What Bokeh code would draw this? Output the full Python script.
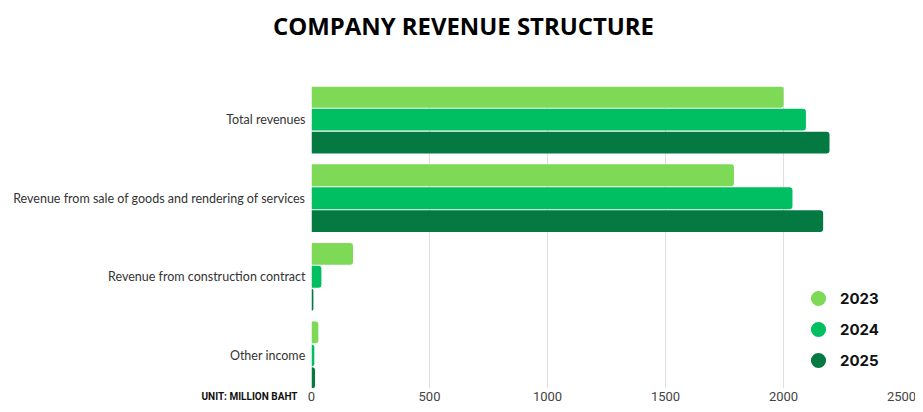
from bokeh.plotting import figure
from bokeh.layouts import column
from bokeh.models import (ColumnDataSource, FactorRange, FixedTicker, Label,
                          Legend, LegendItem, Range1d)
from bokeh.core.properties import value
from bokeh.transform import dodge
from bokeh.embed import file_html
from bokeh.resources import INLINE

# ---- data (million baht) ----
categories = ["Total revenues",
              "Revenue from sale of goods and rendering of services",
              "Revenue from construction contract",
              "Other income"]
years = ["2023", "2024", "2025"]
v2023 = [2000, 1790, 176, 29]
v2024 = [2095, 2038, 42, 12]
v2025 = [2195, 2168, 8, 15]
x_ticks = [0, 500, 1000, 1500, 2000, 2500]
tick_labels = ["0", "500", "1000", "1500", "2000", "2500"]
colors = ["#7ED957", "#00BF63", "#047A42"]

title_text = "COMPANY REVENUE STRUCTURE"
unit_text = "UNIT: MILLION BAHT"

# ---- layout constants (pixels) ----
W = 907
TOP_H, MAIN_H, BOT_H = 78, 302, 16
LEFT, RIGHT = 303, 14
X_MAX = 2500


def no_frame_align(f):
    if "frame_align" in f.properties():
        f.frame_align = False
    return f


def strip(height, x_range, y_range):
    f = figure(width=W, height=height, x_range=x_range, y_range=y_range,
               x_axis_location=None, y_axis_location=None,
               min_border=0, output_backend="svg", toolbar_location=None)
    f.grid.visible = False
    f.outline_line_color = None
    f.background_fill_color = "white"
    f.border_fill_color = "white"
    return no_frame_align(f)


# ---- title strip ----
top = strip(TOP_H, Range1d(0, 1), Range1d(0, 1))
top.add_layout(Label(x=455, y=TOP_H - 17, x_units="screen", y_units="screen",
                     text=title_text, text_align="center", text_baseline="middle",
                     text_font="Open Sans", text_font_style="bold",
                     text_font_size="23.9px", text_color="#000000"))

# ---- main chart ----
src = ColumnDataSource(dict(cat=categories, v2023=v2023, v2024=v2024, v2025=v2025))
yr = FactorRange(factors=list(reversed(categories)), range_padding=-0.078,
                 range_padding_units="absolute")

p = figure(width=W, height=MAIN_H, y_range=yr, x_range=(0, X_MAX),
           x_axis_location=None, min_border_left=LEFT, min_border_right=RIGHT,
           min_border_top=0, min_border_bottom=0,
           output_backend="svg", toolbar_location=None)
no_frame_align(p)
p.outline_line_color = None
p.background_fill_color = "white"
p.border_fill_color = "white"

offsets = [0.292, 0.0, -0.292]
bar_h = 0.279
for yv, col, off in zip(years, colors, offsets):
    p.hbar(y=dodge("cat", off, range=p.y_range), left=0, right="v" + yv,
           height=bar_h, source=src, fill_color=col, line_color=None,
           border_radius=(0, 3, 3, 0))

p.yaxis.axis_line_color = None
p.yaxis.major_tick_line_color = None
p.yaxis.minor_tick_line_color = None
p.yaxis.major_label_standoff = 0
p.yaxis.major_label_text_font = "Lato"
p.yaxis.major_label_text_font_size = "12.5px"
p.yaxis.major_label_text_color = "#333333"

p.ygrid.grid_line_color = None
p.xgrid.ticker = FixedTicker(ticks=x_ticks)
p.xgrid.grid_line_color = "#dedede"
p.xgrid.grid_line_width = 1

# legend: one legend per year so the items sit 31px apart
legend_y = [71, 40, 9]
for yv, col, ly in zip(years, colors, legend_y):
    r = p.scatter(x=[float("nan")], y=[categories[-1]], marker="circle", size=16,
                  fill_color=col, line_color=None)
    leg = Legend(items=[LegendItem(label=yv, renderers=[r])], location=(488, ly),
                 glyph_width=38, glyph_height=38, padding=0, margin=0,
                 label_standoff=3, border_line_color=None,
                 background_fill_alpha=0, label_text_font="Inter",
                 label_text_font_style="bold", label_text_font_size="15px",
                 label_text_color="#111111")
    p.add_layout(leg, "center")

# ---- bottom strip: x tick labels + unit note (same x scale as the chart) ----
px_per_unit = (W - LEFT - RIGHT) / X_MAX
bx = Range1d(-LEFT / px_per_unit, X_MAX + RIGHT / px_per_unit)
bot = strip(BOT_H, bx, Range1d(0, 1))
bot.text(x=x_ticks, y=[0.5] * len(x_ticks), text=tick_labels,
         text_align="center", text_baseline="middle",
         text_font=value("Roboto"), text_font_size=value("13px"),
         text_color="#444444")
bot.add_layout(Label(x=LEFT - 14, y=BOT_H / 2, x_units="screen", y_units="screen",
                     text=unit_text, text_align="right", text_baseline="middle",
                     text_font="Roboto", text_font_style="bold",
                     text_font_size="10px", text_color="#111111"))

layout = column(top, p, bot, spacing=0, margin=(8, 0, 0, 8))
open("out.html", "w").write(file_html(layout, INLINE))
